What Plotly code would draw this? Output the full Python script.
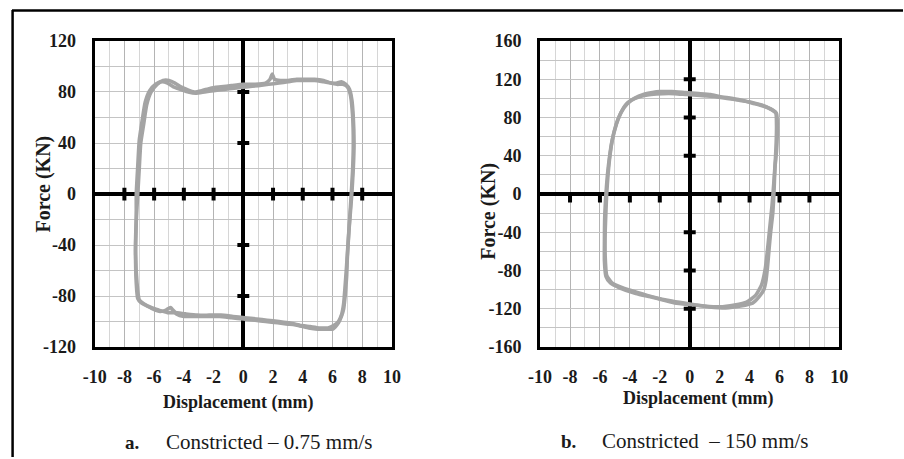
import plotly.graph_objects as go

# The page is photographed over a (904+16)x(459+16) area (8px body margin)
# and shrunk to 904x459, so reference pixel positions are mapped back into
# figure pixels before being used.
REF_W, REF_H = 904, 459
OFF = 8
CAP_W, CAP_H = REF_W + 2 * OFF, REF_H + 2 * OFF
W, H = CAP_W - OFF, CAP_H - OFF

# ---------------- data ----------------
# (a) Constricted - 0.75 mm/s, two cycles
a1_x = [-7.1, -7.0, -6.9, -6.7, -6.5, -6.2, -5.8, -5.4, -5.0, -4.6, -4.2, -3.8, -3.3, -2.8, -2.2, -1.5, -0.8, 0.0, 0.8, 1.5,
        1.8, 1.95, 2.1, 2.5, 3.0, 3.6, 4.2, 4.8, 5.4, 5.9, 6.3, 6.6, 6.9, 7.15, 7.3, 7.4, 7.45, 7.4, 7.3, 7.2,
        7.1, 7.0, 6.95, 6.85, 6.75, 6.6, 6.4, 6.2, 6.0, 5.6, 5.0, 4.4, 3.7, 3.0, 2.3, 1.5, 0.8, 0.0, -0.8, -1.6,
        -2.3, -3.2, -4.0, -4.5, -4.9, -5.2, -5.6, -6.1, -6.6, -6.9, -7.1, -7.2, -7.25, -7.2, -7.1]
a1_y = [0, 20, 40, 55, 70, 80, 86, 89, 89, 87, 84, 82, 80, 81, 83, 84, 85, 86, 86, 87,
        90, 94, 90, 89, 89, 90, 90, 90, 89, 87, 87, 88, 86, 82, 74, 60, 40, 20, 0, -15,
        -30, -50, -65, -80, -90, -96, -101, -104, -106, -106, -106, -105, -103, -102, -101, -100, -99, -98, -97, -96,
        -96, -96, -96, -94, -89, -91, -92, -90, -87, -85, -82, -70, -40, -20, 0]
a2_x = [-7.2, -7.1, -7.0, -6.8, -6.6, -6.3, -5.9, -5.5, -5.1, -4.7, -4.2, -3.7, -3.2, -2.6, -2.0, -1.3, -0.6, 0.2, 1.0, 1.7,
        2.4, 3.0, 3.6, 4.2, 4.8, 5.4, 5.9, 6.3, 6.7, 7.0, 7.2, 7.35, 7.4, 7.35, 7.25, 7.15, 7.05, 6.95, 6.85, 6.75,
        6.6, 6.4, 6.1, 5.7, 5.1, 4.5, 3.8, 3.1, 2.4, 1.6, 0.9, 0.1, -0.7, -1.5, -2.3, -3.1, -3.9, -4.6, -5.1, -5.7,
        -6.2, -6.7, -7.0, -7.15, -7.25, -7.2, -7.2]
a2_y = [0, 22, 42, 58, 72, 81, 86, 88, 87, 84, 82, 80, 79, 80, 81, 82, 83, 84, 85, 86,
        87, 88, 89, 89, 89, 88, 87, 86, 86, 84, 78, 62, 40, 18, -2, -20, -38, -56, -72, -86,
        -95, -100, -103, -105, -105, -104, -103, -101, -100, -99, -98, -97, -96, -95, -95, -95, -94, -93, -93, -91,
        -89, -86, -83, -70, -45, -20, 0]

# (b) Constricted - 150 mm/s, two cycles
b1_x = [-5.6, -5.5, -5.35, -5.2, -4.9, -4.6, -4.25, -3.7, -3.1, -2.5, -2.0, -1.2, -0.3, 0.6, 1.4, 2.0, 2.8, 3.5, 4.2, 4.9,
        5.5, 5.8, 5.85, 5.85, 5.8, 5.7, 5.63, 5.55, 5.4, 5.3, 5.2, 5.1, 4.95, 4.6, 4.2, 3.4, 2.4, 1.3, 0.2, -1.0,
        -2.5, -3.6, -4.7, -5.3, -5.6, -5.7, -5.7, -5.68, -5.6]
b1_y = [0, 20, 40, 55, 73, 85, 94, 100, 104, 106, 107, 107, 106, 105, 104, 102, 100, 98, 95, 92,
        88, 84, 75, 62, 45, 28, 2, -20, -41, -58, -76, -90, -100, -108, -114, -117, -119, -118, -116, -114,
        -108, -104, -98, -93, -86, -70, -50, -24, 0]
b2_x = [-5.55, -5.45, -5.3, -5.1, -4.8, -4.4, -3.9, -3.3, -2.6, -1.8, -1.0, -0.2, 0.7, 1.6, 2.5, 3.3, 4.1, 4.8, 5.4, 5.75,
        5.8, 5.78, 5.72, 5.62, 5.5, 5.35, 5.2, 5.05, 4.8, 4.4, 3.8, 3.0, 2.0, 1.0, 0.0, -1.2, -2.4, -3.5, -4.5, -5.2,
        -5.55, -5.65, -5.65, -5.6, -5.55]
b2_y = [0, 22, 44, 62, 78, 90, 98, 102, 104, 105, 105, 104, 103, 102, 100, 98, 96, 93, 89, 85,
        72, 55, 35, 12, -12, -35, -58, -78, -95, -106, -113, -116, -118, -117, -115, -112, -108, -103, -98, -93,
        -85, -65, -40, -18, 0]

x_tick_vals = [-10, -8, -6, -4, -2, 0, 2, 4, 6, 8, 10]
x_tick_text = ["-10", "-8", "-6", "-4", "-2", "0", "2", "4", "6", "8", "10"]
ya_tick_vals = [-120, -80, -40, 0, 40, 80, 120]
ya_tick_text = ["-120", "-80", "-40", "0", "40", "80", "120"]
yb_tick_vals = [-160, -120, -80, -40, 0, 40, 80, 120, 160]
yb_tick_text = ["-160", "-120", "-80", "-40", "0", "40", "80", "120", "160"]

# marks drawn on the zero axes
a_xmarks = [-8, -6, -4, -2, 2, 4, 6, 8]
a_ymarks = [-80, -40, 40, 80]
b_xmarks = [-8, -6, -4, -2, 2, 4, 6, 8]
b_ymarks = [-120, -80, -40, 40, 80, 120]

caption_a = ("a.", "Constricted – 0.75 mm/s")
caption_b = ("b.", "Constricted  – 150 mm/s")
x_title = "Displacement (mm)"
y_title = "Force (KN)"

# ---------------- figure ----------------
LOOP = "#a4a4a4"
FONT = "Liberation Serif"


def px(p):
    return (p * CAP_W / REF_W - OFF) / W


def py(p):
    return 1 - (p * CAP_H / REF_H - OFF) / H


fig = go.Figure()


def seg_v(xs, y0, y1):
    xx, yy = [], []
    for v in xs:
        xx += [v, v, None]
        yy += [y0, y1, None]
    return xx, yy


def seg_h(ys, x0, x1):
    xx, yy = [], []
    for v in ys:
        xx += [x0, x1, None]
        yy += [v, v, None]
    return xx, yy


for xs, ys, ax in [(a1_x, a1_y, ("x", "y")), (a2_x, a2_y, ("x", "y")),
                   (b1_x, b1_y, ("x2", "y2")), (b2_x, b2_y, ("x2", "y2"))]:
    fig.add_trace(go.Scatter(x=xs, y=ys, mode="lines", xaxis=ax[0], yaxis=ax[1],
                             line=dict(color=LOOP, width=3.6, shape="spline", smoothing=0.5),
                             showlegend=False, hoverinfo="skip"))

# tick marks on zero axes
mx, my = seg_v(a_xmarks, -5, 5)
fig.add_trace(go.Scatter(x=mx, y=my, mode="lines", line=dict(color="black", width=4),
                         xaxis="x", yaxis="y", showlegend=False, hoverinfo="skip"))
mx, my = seg_h(a_ymarks, -0.4, 0.4)
fig.add_trace(go.Scatter(x=mx, y=my, mode="lines", line=dict(color="black", width=4),
                         xaxis="x", yaxis="y", showlegend=False, hoverinfo="skip"))
mx, my = seg_v(b_xmarks, 0, -9)
fig.add_trace(go.Scatter(x=mx, y=my, mode="lines", line=dict(color="black", width=4),
                         xaxis="x2", yaxis="y2", showlegend=False, hoverinfo="skip"))
mx, my = seg_h(b_ymarks, -0.4, 0.4)
fig.add_trace(go.Scatter(x=mx, y=my, mode="lines", line=dict(color="black", width=4),
                         xaxis="x2", yaxis="y2", showlegend=False, hoverinfo="skip"))

tickfont = dict(family=FONT, size=18, color="#1a1a1a", weight="bold")


def xaxis_cfg(domain, anchor):
    return dict(domain=domain, anchor=anchor, range=[-10, 10], tickvals=x_tick_vals, ticktext=x_tick_text,
                showgrid=True, gridcolor="#b4b4b4", gridwidth=1.3,
                minor=dict(dtick=1, showgrid=True, gridcolor="#d6d6d6", gridwidth=1.3),
                zeroline=True, zerolinecolor="black", zerolinewidth=4,
                showline=True, mirror=True, linecolor="black", linewidth=3,
                ticks="", tickfont=tickfont, ticklabelstandoff=11, fixedrange=True)


def yaxis_cfg(domain, anchor, rng, tv, tt):
    return dict(domain=domain, anchor=anchor, range=rng, tickvals=tv, ticktext=tt,
                showgrid=True, gridcolor="#c4c4c4", gridwidth=1.3,
                minor=dict(dtick=20, showgrid=True, gridcolor="#c4c4c4", gridwidth=1.3),
                zeroline=True, zerolinecolor="black", zerolinewidth=4,
                showline=True, mirror=True, linecolor="black", linewidth=3,
                ticks="", tickfont=tickfont, ticklabelstandoff=12, fixedrange=True)


ydom = [py(348), py(39)]
fig.update_layout(
    width=W, height=H, margin=dict(l=0, r=0, t=0, b=0),
    paper_bgcolor="white", plot_bgcolor="white", showlegend=False,
    xaxis=xaxis_cfg([px(91), px(390)], "y"),
    yaxis=yaxis_cfg(ydom, "x", [-120, 120], ya_tick_vals, ya_tick_text),
    xaxis2=xaxis_cfg([px(539), px(840)], "y2"),
    yaxis2=yaxis_cfg(ydom, "x2", [-160, 160], yb_tick_vals, yb_tick_text),
)


def ann(text, x, y, size=18, bold=True, angle=0, xanchor="center"):
    fig.add_annotation(text=text, x=px(x), y=py(y), xref="paper", yref="paper",
                       showarrow=False, textangle=angle, xanchor=xanchor, yanchor="middle",
                       font=dict(family=FONT, size=size, color="#1a1a1a", weight="bold" if bold else "normal"))


ann(x_title, 235, 404, size=18)
ann(x_title, 698, 400, size=18)
ann(y_title, 40, 183, size=20, angle=-90)
ann(y_title, 487, 211, size=20, angle=-90)
ann(caption_a[0], 129, 444, size=19, bold=True)
ann(caption_a[1], 161, 444, size=21, bold=False, xanchor="left")
ann(caption_b[0], 568, 443, size=19, bold=True)
ann(caption_b[1], 599, 443, size=21, bold=False, xanchor="left")

# outer frame (top and left edges) at the very edge of the figure
fig.add_shape(type="line", xref="paper", yref="paper", x0=0, x1=1, y0=1 - 0.6 / H, y1=1 - 0.6 / H,
              line=dict(color="black", width=2.5))
fig.add_shape(type="line", xref="paper", yref="paper", x0=0.6 / W, x1=0.6 / W, y0=0, y1=1,
              line=dict(color="black", width=2.5))

fig.write_html("out.html")
